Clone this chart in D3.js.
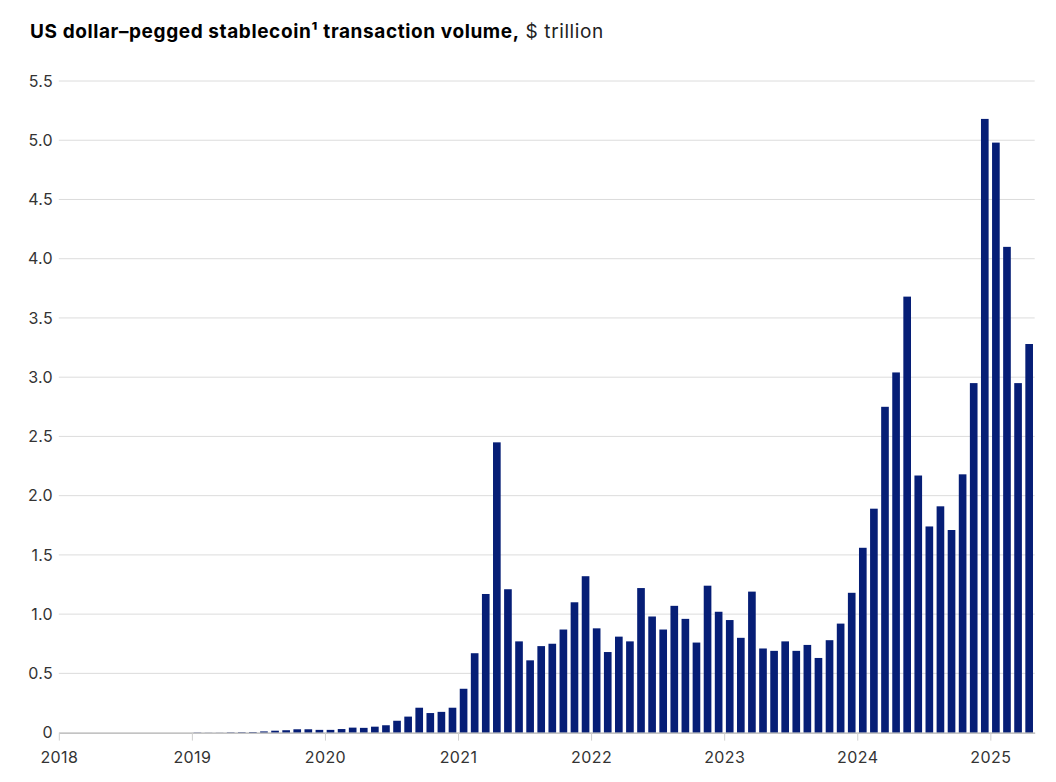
<!DOCTYPE html>
<html>
<head>
<meta charset="utf-8">
<script src="https://cdn.jsdelivr.net/npm/d3@7"></script>
<style>
  body { margin: 0; background: #fff; }
  text { font-family: "Inter", "Liberation Sans", sans-serif; }
</style>
</head>
<body>
<div id="chart"></div>
<script>
// months Jan 2018 .. Apr 2025, values in $ trillion
var years = [2018, 2019, 2020, 2021, 2022, 2023, 2024, 2025];

var v2018 = [0, 0, 0, 0, 0, 0, 0, 0, 0, 0, 0, 0];
var v2019 = [0.002, 0.001, 0.001, 0.003, 0.004, 0.005, 0.01, 0.016, 0.02, 0.028, 0.028, 0.023];
var v2020 = [0.023, 0.03, 0.042, 0.04, 0.05, 0.062, 0.10, 0.135, 0.21, 0.165, 0.175, 0.21];
var v2021 = [0.37, 0.67, 1.17, 2.45, 1.21, 0.77, 0.61, 0.73, 0.75, 0.87, 1.10, 1.32];
var v2022 = [0.88, 0.68, 0.81, 0.77, 1.22, 0.98, 0.87, 1.07, 0.96, 0.76, 1.24, 1.02];
var v2023 = [0.95, 0.80, 1.19, 0.71, 0.69, 0.77, 0.69, 0.74, 0.63, 0.78, 0.92, 1.18];
var v2024 = [1.56, 1.89, 2.75, 3.04, 3.68, 2.17, 1.74, 1.91, 1.71, 2.18, 2.95, 5.18];
var v2025 = [4.98, 4.10, 2.95, 3.28];

var yTicks = [0, 0.5, 1.0, 1.5, 2.0, 2.5, 3.0, 3.5, 4.0, 4.5, 5.0, 5.5];

var series = [v2018, v2019, v2020, v2021, v2022, v2023, v2024, v2025];
var data = [];
series.forEach(function(vals, k) {
    vals.forEach(function(v, m) {
        data.push({ key: years[k] + '-' + (m + 1), value: v });
    });
});

var width = 1056;
var height = 782;
var plotLeft = 58.8, plotRight = 1034.7, plotTop = 81, plotBottom = 732.6;

var svg = d3.select('#chart').append('svg')
    .attr('width', width)
    .attr('height', height);

var x = d3.scaleBand()
    .domain(data.map(function(d) { return d.key; }))
    .range([plotLeft, plotRight])
    .paddingInner(0.31)
    .paddingOuter(0.155);

// month index scale for year ticks
var xYear = d3.scaleLinear()
    .domain([2018, 2018 + data.length / 12])
    .range([plotLeft, plotRight]);

var y = d3.scaleLinear()
    .domain([0, 5.5])
    .range([plotBottom, plotTop]);

// title
var title = svg.append('text')
    .attr('x', 30)
    .attr('y', 38)
    .attr('font-size', '19px')
    .attr('letter-spacing', '0.6px')
    .attr('fill', '#000');
title.append('tspan').attr('font-weight', 700).text('US dollar–pegged stablecoin¹ transaction volume,');
title.append('tspan').attr('font-weight', 400).attr('fill', '#222').text(' $ trillion');

// gridlines
svg.append('g')
    .selectAll('line')
    .data(yTicks.filter(function(d) { return d > 0; }))
  .enter().append('line')
    .attr('x1', plotLeft)
    .attr('x2', plotRight)
    .attr('y1', function(d) { return y(d); })
    .attr('y2', function(d) { return y(d); })
    .attr('stroke', '#dcdcdc')
    .attr('stroke-width', 1);

// y labels
svg.append('g')
    .selectAll('text')
    .data(yTicks)
  .enter().append('text')
    .attr('x', 53)
    .attr('y', function(d) { return y(d); })
    .attr('dy', '0.36em')
    .attr('text-anchor', 'end')
    .attr('font-size', '16px')
    .attr('letter-spacing', '0.3px')
    .attr('fill', '#333')
    .text(function(d) { return d === 0 ? '0' : d3.format('.1f')(d); });

// bars
svg.append('g')
    .selectAll('rect')
    .data(data)
  .enter().append('rect')
    .attr('x', function(d) { return x(d.key); })
    .attr('width', x.bandwidth())
    .attr('y', function(d) { return y(d.value); })
    .attr('height', function(d) { return plotBottom - y(d.value); })
    .attr('fill', '#061e76');

// x axis
var xAxis = svg.append('g')
    .attr('transform', 'translate(0,' + plotBottom + ')')
    .call(d3.axisBottom(xYear)
        .tickValues(years)
        .tickFormat(d3.format('d'))
        .tickSize(8)
        .tickSizeOuter(0));

xAxis.select('.domain').attr('stroke', '#9a9a9a');
xAxis.selectAll('.tick line').attr('stroke', '#cfcfcf');
xAxis.selectAll('.tick text')
    .attr('font-size', '16px')
    .attr('font-family', '"Inter", "Liberation Sans", sans-serif')
    .attr('letter-spacing', '0.4px')
    .attr('fill', '#333')
    .attr('y', 19);
</script>
</body>
</html>
